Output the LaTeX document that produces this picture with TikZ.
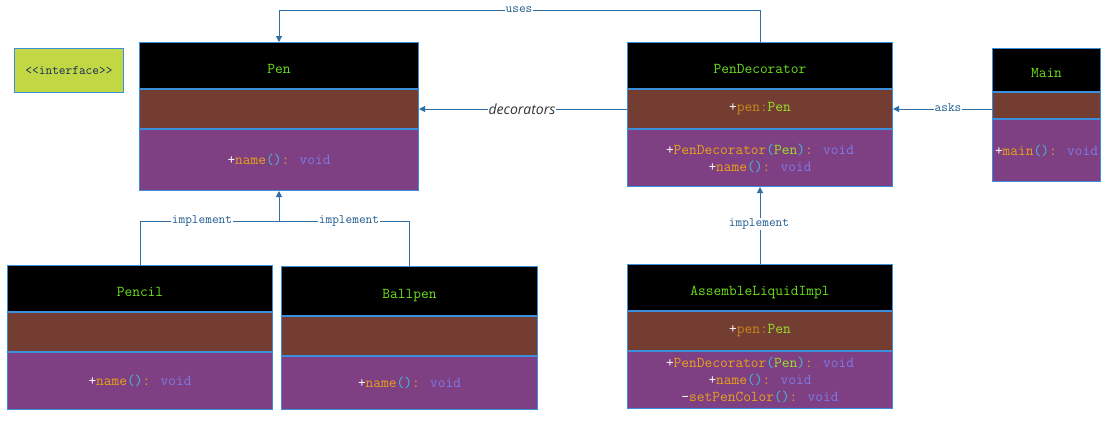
\documentclass[tikz,border=0pt]{standalone}
\usepackage{fontspec}
\newfontfamily\labsans[ItalicFont={Open Sans Italic}]{Open Sans}
\usetikzlibrary{arrows.meta}
\definecolor{bordc}{HTML}{3A8EDB}
\definecolor{linec}{HTML}{2F6FA6}
\definecolor{labc}{HTML}{1E5C8E}
\definecolor{hdfill}{HTML}{000000}
\definecolor{atfill}{HTML}{733D31}
\definecolor{mtfill}{HTML}{7F3F83}
\definecolor{ifill}{HTML}{C1D844}
\definecolor{itext}{HTML}{1A2A5A}
\definecolor{titg}{HTML}{6BE01C}
\definecolor{nameor}{HTML}{E8A318}
\definecolor{parc}{HTML}{3CC6D8}
\definecolor{voidc}{HTML}{7C7CE8}
\definecolor{penv}{HTML}{C88A1A}
\definecolor{pent}{HTML}{9AE22A}
\definecolor{decc}{HTML}{333333}
\newcommand\pl{\textcolor{white}{+}}
\newcommand\mi{\textcolor{white}{-}}
\newcommand\nm[1]{\textcolor{nameor}{#1}}
\newcommand\pa[1]{\textcolor{parc}{#1}}
\newcommand\vd{\textcolor{nameor}{:} \textcolor{voidc}{void}}
\newcommand\pt[1]{\textcolor{pent}{#1}}
\begin{document}
\begin{tikzpicture}[x=1pt,y=-1pt,
  comp/.style={draw=bordc,line width=1pt,inner sep=0pt,anchor=north west,
    font=\fontsize{15}{17}\selectfont\ttfamily,align=center},
  hdc/.style={comp,fill=hdfill,text=titg,text height=15pt,text depth=0pt},
  atc/.style={comp,fill=atfill},
  mtc/.style={comp,fill=mtfill},
  conn/.style={draw=linec,line width=1pt},
  arr/.style={conn,-{Triangle[length=6pt,width=6pt]}},
  lab/.style={fill=white,text=labc,inner sep=1pt,font=\fontsize{13}{14}\selectfont\ttfamily}]
\useasboundingbox[fill=white] (0,0) rectangle (1111,429);

% interface legend
\node[draw=bordc,line width=1pt,fill=ifill,text=itext,anchor=north west,inner sep=0pt,
  minimum width=109pt,minimum height=44pt,font=\fontsize{13}{14}\selectfont\ttfamily] (iface) at (14,48) {<<interface>>};

% Pen
\node[hdc,minimum width=279pt,minimum height=46pt] (pen-h) at (139,42) {Pen};
\node[atc,minimum width=279pt,minimum height=39pt] (pen-a) at (pen-h.south west) {};
\node[mtc,minimum width=279pt,minimum height=61pt] (pen-m) at (pen-a.south west) {\pl\nm{name}\pa{()}\vd};

% PenDecorator
\node[hdc,minimum width=265pt,minimum height=46pt] (pd-h) at (627,42) {PenDecorator};
\node[atc,minimum width=265pt,minimum height=39pt] (pd-a) at (pd-h.south west) {\pl\textcolor{penv}{pen}\textcolor{penv}{:}\pt{Pen}};
\node[mtc,minimum width=265pt,minimum height=57pt] (pd-m) at (pd-a.south west) {\pl\nm{PenDecorator}\pa{(}\pt{Pen}\pa{)}\vd\\\pl\nm{name}\pa{()}\vd};

% Main
\node[hdc,minimum width=108pt,minimum height=43pt] (main-h) at (992,48) {Main};
\node[atc,minimum width=108pt,minimum height=26pt] (main-a) at (main-h.south west) {};
\node[mtc,minimum width=108pt,minimum height=62pt] (main-m) at (main-a.south west) {\pl\nm{main}\pa{()}\vd};

% Pencil
\node[hdc,minimum width=265pt,minimum height=46pt] (pencil-h) at (7,265) {Pencil};
\node[atc,minimum width=265pt,minimum height=39pt] (pencil-a) at (pencil-h.south west) {};
\node[mtc,minimum width=265pt,minimum height=57pt] (pencil-m) at (pencil-a.south west) {\pl\nm{name}\pa{()}\vd};

% Ballpen
\node[hdc,minimum width=256pt,minimum height=49pt] (ball-h) at (281,266) {Ballpen};
\node[atc,minimum width=256pt,minimum height=39pt] (ball-a) at (ball-h.south west) {};
\node[mtc,minimum width=256pt,minimum height=53pt] (ball-m) at (ball-a.south west) {\pl\nm{name}\pa{()}\vd};

% AssembleLiquidImpl
\node[hdc,minimum width=265pt,minimum height=46pt] (ali-h) at (627,264) {AssembleLiquidImpl};
\node[atc,minimum width=265pt,minimum height=39pt] (ali-a) at (ali-h.south west) {\pl\textcolor{penv}{pen}\textcolor{penv}{:}\pt{Pen}};
\node[mtc,minimum width=265pt,minimum height=57pt] (ali-m) at (ali-a.south west) {\pl\nm{PenDecorator}\pa{(}\pt{Pen}\pa{)}\vd\\\pl\nm{name}\pa{()}\vd\\\mi\nm{setPenColor}\pa{()}\vd};

% connectors
\coordinate (usesy) at (0,10);
\coordinate (impy) at (0,221);
\coordinate (jn) at (pen-m.south |- impy);
\draw[arr] (pd-h.north) -- (pd-h.north |- usesy) -| (pen-h.north);
\draw[arr] (pd-a.west) -- (pd-a.west -| pen-a.east);
\draw[arr] (pd-a.east -| main-a.west) -- (pd-a.east);
\draw[conn] (pencil-h.north) |- (jn);
\draw[conn] (ball-h.north) |- (jn);
\draw[arr] (jn) -- (pen-m.south);
\draw[arr] (ali-h.north) -- (pd-m.south);

% labels
\node[lab] (l-uses) at (519,10) {uses};
\node[lab,font=\fontsize{14}{16}\selectfont\labsans\itshape,text=decc] (l-dec) at (522,109) {decorators};
\node[lab] (l-asks) at (948,108) {asks};
\node[lab] (l-imp1) at (202,221) {implement};
\node[lab] (l-imp2) at (349,221) {implement};
\node[lab] (l-imp3) at (759,224) {implement};
\end{tikzpicture}
\end{document}
